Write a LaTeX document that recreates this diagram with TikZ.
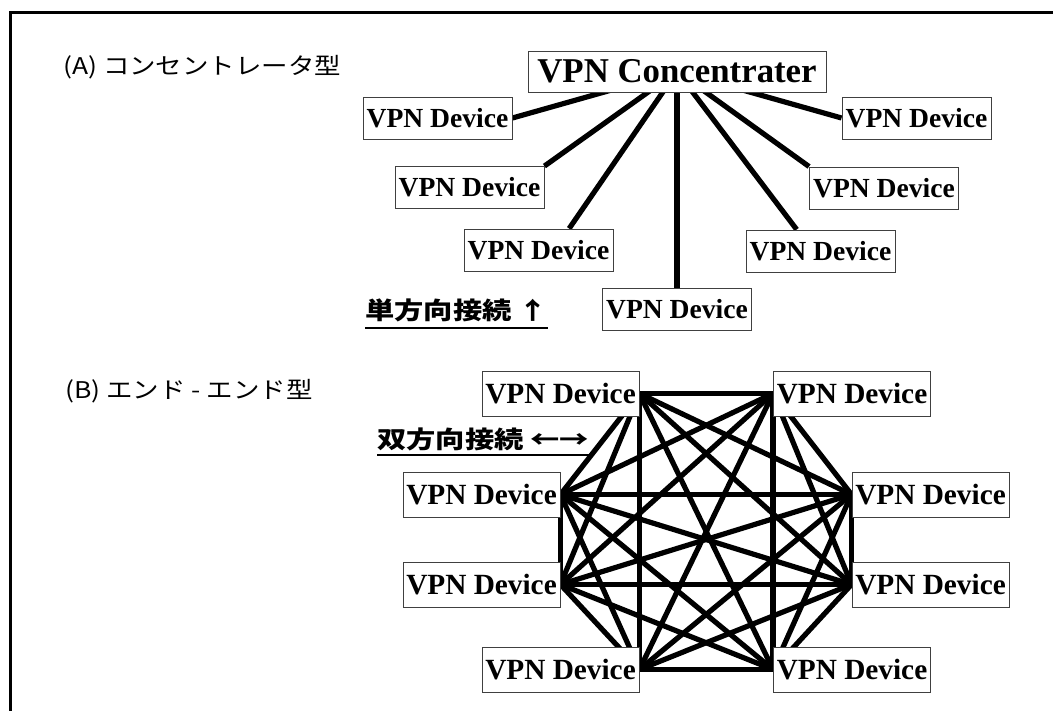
\documentclass[tikz,border=0pt]{standalone}
\usepackage{fontspec}
\setmainfont{Liberation Serif}
\newfontfamily\jp[FakeStretch=1.15]{Noto Sans CJK JP}
\newfontfamily\jpb[FakeStretch=1.22]{Noto Sans CJK JP}
\usetikzlibrary{calc}
\pgfdeclarelayer{bg}
\pgfsetlayers{bg,main}

\begin{document}
\begin{tikzpicture}[x=1pt,y=-1pt,
  dev/.style={draw=black!75, line width=0.9pt, fill=white, inner sep=0pt,
    font=\fontsize{27.6}{30}\selectfont\bfseries,
    minimum width=149pt, minimum height=42pt},
  devB/.style={dev, font=\fontsize{29.3}{32}\selectfont\bfseries,
    minimum width=157pt, minimum height=45pt},
  hub/.style={dev, font=\fontsize{34.8}{38}\selectfont\bfseries,
    minimum width=298pt, minimum height=41pt},
  link/.style={line width=5.2pt},
  jlabel/.style={inner sep=0pt, font=\jp\fontsize{23}{27}\selectfont},
  jbold/.style={inner sep=0pt, font=\jpb\bfseries\fontsize{24}{28}\selectfont},
  uline/.style={line width=1.5pt}
]
\useasboundingbox (0,0) rectangle (1053,711);

% outer frame (top and left edges)
\draw[line width=3pt] (1053,13) -- (10.5,13) -- (10.5,711);

% ---- (A) concentrator topology ----
\node[hub] (conc) at (677,71.5) {VPN Concentrater};
\node[dev] (l1) at (437.5,118) {VPN Device};
\node[dev] (l2) at (469.5,187.5) {VPN Device};
\node[dev] (l3) at (538.5,250) {VPN Device};
\node[dev] (l4) at (677,309.5) {VPN Device};
\node[dev] (r1) at (916.5,118) {VPN Device};
\node[dev] (r2) at (884,188) {VPN Device};
\node[dev] (r3) at (820.5,251) {VPN Device};

\begin{pgfonlayer}{bg}
  \draw[link] (conc.center) -- (l1.east);
  \draw[link] (conc.center) -- (l2.north east);
  \draw[link] (conc.center) -- (l3.35);
  \draw[link] (conc.center) -- (l4.north);
  \draw[link] (conc.center) -- (r1.west);
  \draw[link] (conc.center) -- (r2.north west);
  \draw[link] (conc.center) -- (r3.138);
\end{pgfonlayer}

% ---- (B) full mesh topology ----
\node[devB] (tl)  at (560.5,393.5) {VPN Device};
\node[devB] (tr)  at (852,393.5)   {VPN Device};
\node[devB] (ml1) at (481.5,494.5) {VPN Device};
\node[devB] (mr1) at (930.5,494.5) {VPN Device};
\node[devB] (ml2) at (481.5,584.5) {VPN Device};
\node[devB] (mr2) at (930.5,584.5) {VPN Device};
\node[devB] (bl)  at (560.5,669.5) {VPN Device};
\node[devB] (br)  at (852,669.5)   {VPN Device};

\coordinate (m1) at (tl.east);
\coordinate (m2) at (tr.west);
\coordinate (m3) at (mr1.west);
\coordinate (m4) at (mr2.west);
\coordinate (m5) at (br.west);
\coordinate (m6) at (bl.east);
\coordinate (m7) at (ml2.east);
\coordinate (m8) at (ml1.east);

\begin{pgfonlayer}{bg}
  \foreach \i in {1,...,7}{
    \pgfmathtruncatemacro{\k}{\i+1}
    \foreach \j in {\k,...,8}{
      \draw[link] (m\i) -- (m\j);
    }
  }
\end{pgfonlayer}

% ---- labels ----
\node[jlabel, anchor=base west] (labA) at (63,75) {(A) コンセントレータ型};
\node[jlabel, anchor=base west] (labB) at (65,399) {(B) エンド - エンド型};

\node[jbold, anchor=base west] (uni) at (365,320) {単方向接続 ↑};
\draw[uline] ([yshift=-8pt]uni.base west) -- ([yshift=-8pt]uni.base east);

\node[jbold, anchor=base west] (bi) at (377,448) {双方向接続 ←→};
\draw[uline] ([yshift=-7pt]bi.base west) -- ([yshift=-7pt]bi.base east);
\end{tikzpicture}
\end{document}
